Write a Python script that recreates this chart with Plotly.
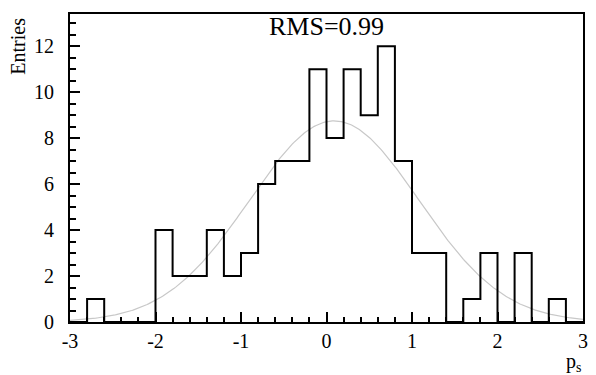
import numpy as np
import plotly.graph_objects as go

# Histogram of p_s: 30 bins of width 0.2 between -3 and 3
bin_edges = [round(-3.0 + 0.2 * i, 1) for i in range(31)]
counts = [0, 1, 0, 0, 0, 4, 2, 2, 4, 2, 3, 6, 7, 7, 11,
          8, 11, 9, 12, 7, 3, 3, 0, 1, 3, 0, 3, 0, 1, 0]

# Gaussian fit parameters
fit_const = 8.75
fit_mean = 0.09
fit_sigma = 0.99
rms_label = "RMS=0.99"

x_tick_vals = [-3, -2, -1, 0, 1, 2, 3]
x_tick_text = ["-3", "-2", "-1", "0", "1", "2", "3"]
y_tick_vals = [0, 2, 4, 6, 8, 10, 12]

serif = "Liberation Serif"

# step outline of the histogram
step_x = bin_edges[:-1] + [bin_edges[-1]]
step_y = counts + [counts[-1]]

fx = np.linspace(-3, 3, 400)
fy = fit_const * np.exp(-0.5 * ((fx - fit_mean) / fit_sigma) ** 2)

fig = go.Figure()
fig.add_trace(go.Scatter(x=fx, y=fy, mode="lines",
                         line=dict(color="#c8c8c8", width=1.2),
                         hoverinfo="skip", showlegend=False))
fig.add_trace(go.Scatter(x=step_x, y=step_y, mode="lines",
                         line=dict(color="black", width=2, shape="hv"),
                         showlegend=False))

fig.update_layout(
    width=596, height=375,
    margin=dict(l=70, r=8, t=14, b=53),
    paper_bgcolor="white", plot_bgcolor="white",
    font=dict(family=serif, size=19, color="black"),
    xaxis=dict(range=[-3, 3], tickmode="array", tickvals=x_tick_vals,
               ticktext=x_tick_text, showgrid=False, zeroline=False,
               ticks="inside", ticklen=10, tickwidth=2, tickcolor="black",
               showline=True, mirror=True, linecolor="black", linewidth=2,
               minor=dict(ticks="inside", dtick=0.2, tick0=-3, ticklen=5,
                          tickwidth=2, tickcolor="black", showgrid=False),
               tickfont=dict(family=serif, size=20)),
    yaxis=dict(range=[0, 13.4], tickmode="array", tickvals=y_tick_vals,
               showgrid=False, zeroline=False,
               ticks="inside", ticklen=10, tickwidth=2, tickcolor="black",
               showline=True, mirror=True, linecolor="black", linewidth=2,
               minor=dict(ticks="inside", dtick=0.5, tick0=0, ticklen=6,
                          tickwidth=2, tickcolor="black", showgrid=False),
               tickfont=dict(family=serif, size=20), ticklabelstandoff=10),
    annotations=[
        dict(text=rms_label, xref="paper", yref="paper", x=0.5, y=0.958,
             xanchor="center", yanchor="middle", showarrow=False,
             font=dict(family=serif, size=26)),
        dict(text="Entries", xref="paper", yref="paper", x=-0.102, y=0.995,
             xanchor="center", yanchor="top", textangle=-90, showarrow=False,
             font=dict(family=serif, size=20)),
        dict(text="p<sub>s</sub>", xref="paper", yref="paper", x=1.0, y=-0.085,
             xanchor="right", yanchor="top", showarrow=False,
             font=dict(family=serif, size=20)),
    ],
)

fig.write_html("out.html")
